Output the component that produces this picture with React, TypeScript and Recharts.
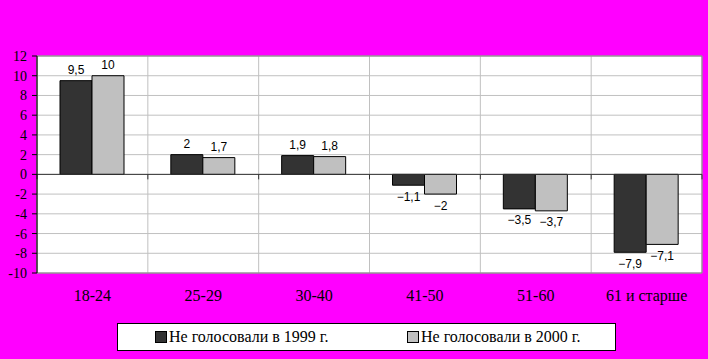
import {
  Bar,
  BarChart,
  CartesianGrid,
  LabelList,
  ReferenceArea,
  ReferenceLine,
  XAxis,
  YAxis,
} from 'recharts'

const categories = ['18-24', '25-29', '30-40', '41-50', '51-60', '61 и старше']
const noVote1999 = [9.5, 2, 1.9, -1.1, -3.5, -7.9]
const noVote2000 = [10, 1.7, 1.8, -2, -3.7, -7.1]
const yTicks = [-10, -8, -6, -4, -2, 0, 2, 4, 6, 8, 10, 12]
const seriesNames = ['Не голосовали в 1999 г.', 'Не голосовали в 2000 г.']
const seriesColors = ['#333333', '#c0c0c0']

const data = categories.map((category, i) => ({
  category,
  v1999: noVote1999[i],
  v2000: noVote2000[i],
}))

const SERIF = '"Liberation Serif", "Times New Roman", serif'
const SANS = '"Liberation Sans", Arial, sans-serif'

// 9.5 -> "9,5", -1.1 -> "−1,1"
const fmt = (v: any) => String(v).replace('.', ',').replace('-', '\u2212')

// zero line with small ticks at the category borders
function ZeroLine(props: any) {
  const { x1, x2, y1 } = props
  const n = categories.length
  const step = (x2 - x1) / n
  return (
    <g>
      <line x1={x1} x2={x2} y1={y1} y2={y1} stroke="#333333" strokeWidth={1} />
      {Array.from({ length: n + 1 }, (_, i) => (
        <line
          key={i}
          x1={x1 + i * step}
          x2={x1 + i * step}
          y1={y1}
          y2={y1 + 5}
          stroke="#333333"
        />
      ))}
    </g>
  )
}

function LegendBox() {
  return (
    <div
      style={{
        position: 'absolute',
        left: 117,
        top: 323,
        width: 497,
        height: 26,
        border: '1px solid #000',
        background: '#fff',
        fontFamily: SERIF,
        fontSize: 16,
        color: '#000',
      }}
    >
      {seriesNames.map((name, i) => (
        <div
          key={name}
          style={{
            position: 'absolute',
            left: i === 0 ? 37 : 289,
            top: 4,
            display: 'flex',
            alignItems: 'center',
            whiteSpace: 'nowrap',
          }}
        >
          <span
            style={{
              display: 'inline-block',
              width: 10,
              height: 10,
              background: seriesColors[i],
              border: '1px solid #000',
              marginRight: 2,
            }}
          />
          <span>{name}</span>
        </div>
      ))}
    </div>
  )
}

export default function App() {
  return (
    <div
      style={{
        position: 'absolute',
        left: 0,
        top: 0,
        width: 708,
        height: 359,
        background: '#ff00ff',
      }}
    >
      <BarChart
        width={708}
        height={359}
        data={data}
        margin={{ top: 56, right: 6, bottom: 56, left: 0 }}
        barGap={0}
        barSize={32}
      >
        <CartesianGrid
          stroke="#c0c0c0"
          fill="#ffffff"
          verticalCoordinatesGenerator={({ offset }: any) =>
            Array.from(
              { length: categories.length + 1 },
              (_, i) => offset.left + (i * offset.width) / categories.length
            )
          }
        />
        <ReferenceArea y1={-10} y2={12} fill="none" stroke="#808080" />
        <XAxis
          dataKey="category"
          axisLine={false}
          tickLine={false}
          tickSize={0}
          tickMargin={17}
          height={30}
          interval={0}
          tick={{ fill: '#000', fontSize: 16, fontFamily: SERIF }}
        />
        <YAxis
          width={37}
          domain={[-10, 12]}
          ticks={yTicks}
          interval={0}
          tickSize={5}
          tickMargin={5}
          axisLine={{ stroke: '#000' }}
          tickLine={{ stroke: '#000' }}
          tick={{ fill: '#000', fontSize: 14, fontFamily: SERIF }}
        />
        <Bar dataKey="v1999" name={seriesNames[0]} fill={seriesColors[0]} stroke="#000" isAnimationActive={false}>
          <LabelList
            dataKey="v1999"
            position="top"
            offset={7}
            formatter={fmt}
            style={{ fill: '#000', fontSize: 12, fontFamily: SANS }}
          />
        </Bar>
        <Bar dataKey="v2000" name={seriesNames[1]} fill={seriesColors[1]} stroke="#000" isAnimationActive={false}>
          <LabelList
            dataKey="v2000"
            position="top"
            offset={7}
            formatter={fmt}
            style={{ fill: '#000', fontSize: 12, fontFamily: SANS }}
          />
        </Bar>
        <ReferenceLine y={0} shape={ZeroLine} />
      </BarChart>
      <LegendBox />
    </div>
  )
}
